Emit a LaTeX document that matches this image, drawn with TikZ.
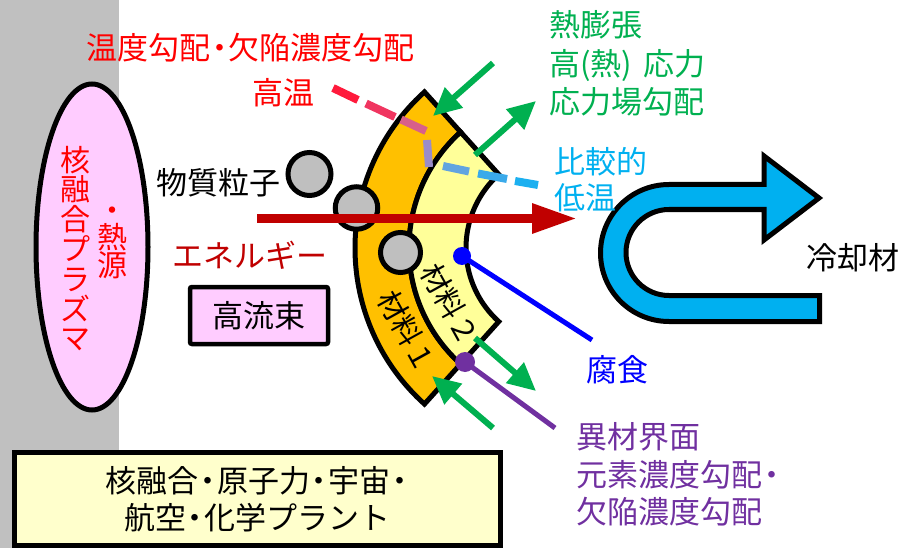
\documentclass[tikz,border=0pt]{standalone}
\usepackage{fontspec}
\setmainfont{Noto Sans CJK JP}
\usetikzlibrary{arrows.meta,shapes.geometric}
\definecolor{cbg}{HTML}{C0C0C0}
\definecolor{cpink}{HTML}{FFCCFF}
\definecolor{cred}{HTML}{FF0000}
\definecolor{cdred}{HTML}{C00000}
\definecolor{cgreen}{HTML}{00B050}
\definecolor{csky}{HTML}{00B0F0}
\definecolor{cblue}{HTML}{0000FF}
\definecolor{cpurple}{HTML}{7030A0}
\definecolor{corange}{HTML}{FFC000}
\definecolor{clyellow}{HTML}{FFFF99}
\definecolor{cbox}{HTML}{FFFFCC}
\definecolor{cpart}{HTML}{BFBFBF}
\definecolor{dashA}{HTML}{FF1A3C}
\definecolor{dashB}{HTML}{F03560}
\definecolor{dashC}{HTML}{D8608A}
\definecolor{dashD}{HTML}{9A8CC8}
\definecolor{dashE}{HTML}{62A4E0}
\definecolor{dashF}{HTML}{3AAAEA}
\definecolor{dashG}{HTML}{1CB0F0}
\newcommand\nkdot{\kern-0.2em ・\kern-0.2em}
\begin{document}
\begin{tikzpicture}[x=1pt,y=-1pt,
  txt/.style={inner sep=0pt, font=\fontsize{31}{37.5}\selectfont},
  outline/.style={draw=black, line width=5pt},
  garrow/.style={draw=cgreen, line width=6pt, -{Triangle[length=28pt,width=26pt]}},
  dashseg/.style={line width=8pt},
  particle/.style={circle, outline, fill=cpart, inner sep=0pt},
  dotnode/.style={circle, inner sep=0pt, minimum size=19pt}]
\useasboundingbox (0,0) rectangle (899,548);
% background band
\fill[cbg] (0,0) rectangle (119,548);
% plasma
\node[ellipse, outline, fill=cpink, minimum width=112pt, minimum height=326pt, inner sep=0pt] (plasma) at (92,247) {};
\node[txt, text=cred, align=center, font=\fontsize{30}{29.8}\selectfont] (plasmaA) at (75,248.5) {核\\融\\合\\プ\\ラ\\ズ\\マ};
\node[txt, text=cred, align=center, font=\fontsize{30}{27.5}\selectfont] (plasmaB) at (112.5,242.5) {・\\熱\\源};
% materials
\coordinate (C) at (565,248);
\draw[outline, fill=corange, line join=miter] ([shift={(C)}]132:210) arc[start angle=132, end angle=228, radius=210] -- ([shift={(C)}]228:156) arc[start angle=228, end angle=132, radius=156] -- cycle;
\draw[outline, fill=clyellow, line join=miter] ([shift={(C)}]132:156) arc[start angle=132, end angle=228, radius=156] -- ([shift={(C)}]228:99) arc[start angle=228, end angle=132, radius=99] -- cycle;
\node[txt, rotate=-61, font=\fontsize{29}{30}\selectfont] (mat1) at (407,331) {材料１};
\node[txt, rotate=-61, font=\fontsize{29}{30}\selectfont] (mat2) at (450.5,304) {材料２};
% particles
\node[particle, minimum size=43pt] (p1) at (309.5,174) {};
\node[particle, minimum size=42.5pt] (p2) at (356.5,208) {};
\node[particle, minimum size=40pt] (p3) at (400.5,252.5) {};
% energy arrow
\coordinate (ra1) at (257,218.5);
\coordinate (ra2) at (577,218.5);
\draw[cdred, line width=9pt, -{Triangle[length=45pt,width=28pt]}] (ra1) -- (ra2);
% temperature dashed line (gradient red to blue)
\draw[dashseg, dashA] (333,88) -- (358,100);
\draw[dashseg, dashB] (366,103.5) -- (395,117);
\draw[dashseg, dashC] (401,119.5) -- (426,131);
\draw[dashseg, dashD] (427,140) -- (429,167);
\draw[dashseg, dashE] (443,166) -- (469,171.5);
\draw[dashseg, dashF] (478,173.5) -- (507,179);
\draw[dashseg, dashG] (515,181) -- (538,185);
% green arrows
\coordinate (g1s) at (493,63);  \coordinate (g1e) at (433,116);
\coordinate (g2s) at (475,155); \coordinate (g2e) at (536,101);
\coordinate (g3s) at (475,338); \coordinate (g3e) at (536,391);
\coordinate (g4s) at (493,428); \coordinate (g4e) at (432,376);
\draw[garrow] (g1s) -- (g1e);
\draw[garrow] (g2s) -- (g2e);
\draw[garrow] (g3s) -- (g3e);
\draw[garrow] (g4s) -- (g4e);
% corrosion
\coordinate (bd) at (462,256);
\coordinate (bend) at (592,340);
\draw[cblue, line width=5pt] (bd) -- (bend);
\node[dotnode, fill=cblue, minimum size=18pt] (bdot) at (bd) {};
% interface
\coordinate (pd) at (465,362);
\coordinate (pend) at (555,428);
\draw[cpurple, line width=5pt] (pd) -- (pend);
\node[dotnode, fill=cpurple, minimum size=20pt] (pdot) at (pd) {};
% coolant U arrow
\draw[outline, fill=csky, line join=miter]
  (764,184.5) -- (669,184.5) arc[start angle=270, end angle=90, radius=68.5]
  -- (819.5,321.5) -- (819.5,295.5) -- (669,295.5)
  arc[start angle=90, end angle=270, radius=43]
  -- (764,209.5) -- (764,240) -- (819,198) -- (764,156) -- cycle;
% boxes
\node[draw=black, line width=4.5pt, fill=cpink, rounded corners=2pt, minimum width=138pt, minimum height=57pt, txt] (flux) at (259,315.5) {高流束};
\node[draw=black, line width=5pt, fill=cbox, minimum width=485.5pt, minimum height=93pt, txt, align=center, font=\fontsize{31}{37}\selectfont] (apps) at (257.3,499) {核融合\nkdot 原子力\nkdot 宇宙\nkdot\\航空\nkdot 化学プラント};
% texts
\node[txt, text=cred, anchor=west] (title) at (86,48) {温度勾配\nkdot 欠陥濃度勾配};
\node[txt, text=cred, anchor=west] (hot) at (252,93) {高温};
\node[txt, anchor=west] (matter) at (156,183) {物質粒子};
\node[txt, text=cdred, anchor=west] (energy) at (172,255) {エネルギー};
\node[txt, text=cgreen, anchor=west, align=left, font=\fontsize{31}{38.5}\selectfont] (thermal) at (549,63.5) {熱膨張\\高(熱)\kern0.35em 応力\\応力場勾配};
\node[txt, text=csky, anchor=west, align=left, font=\fontsize{31}{36}\selectfont] (cool) at (554,180) {比較的\\低温};
\node[txt, anchor=west] (coolant) at (806,258) {冷却材};
\node[txt, text=cblue, anchor=west] (corr) at (586,370) {腐食};
\node[txt, text=cpurple, anchor=west, align=left, font=\fontsize{31}{37.5}\selectfont] (iface) at (576,474.5) {異材界面\\元素濃度勾配\nkdot\\欠陥濃度勾配};
\end{tikzpicture}
\end{document}
